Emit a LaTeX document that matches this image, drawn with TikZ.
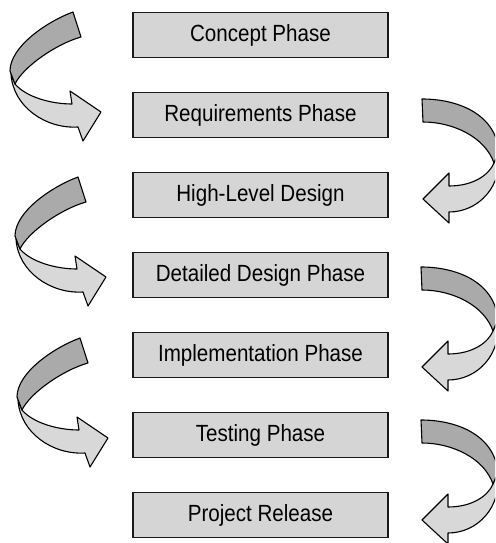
\documentclass[tikz,border=0pt]{standalone}
\usepackage{fontspec}
\setmainfont{Liberation Sans}[FakeStretch=0.88]
\definecolor{boxfill}{HTML}{D5D5D5}
\definecolor{lightfill}{HTML}{D8D8D8}
\definecolor{darkfill}{HTML}{AAAAAA}
\definecolor{edge}{HTML}{1A1A1A}
\tikzset{
  phase/.style={draw=edge, line width=1.4pt, fill=boxfill, minimum width=255pt,
    minimum height=45pt, inner sep=0pt, font=\fontsize{23.4}{28}\selectfont, text=black},
  lightband/.style={fill=lightfill, draw=black, line width=1.1pt, line join=round},
  darkband/.style={fill=darkfill, draw=black, line width=1.1pt, line join=round},
  leftcurl/.pic={
    \filldraw[lightband] (-90,-38) .. controls (-88,-5) and (-55,17) .. (-23,15)
      -- (-18,29) -- (0,0) -- (-31,-21) -- (-29,-8)
      .. controls (-50,-8) and (-75,-15) .. (-86,-28) -- cycle;
    \filldraw[darkband] (-28,-100) .. controls (-55,-90) and (-91,-65) .. (-91,-41)
      -- (-86,-28) .. controls (-78,-45) and (-45,-68) .. (-20,-75) -- cycle;
  },
  rightcurl/.pic={
    \filldraw[lightband] (76,-48) .. controls (80,-12) and (55,13) .. (26,13)
      -- (26,24) -- (0,0) -- (26,-26) -- (26,-13)
      .. controls (50,-13) and (66,-24) .. (71,-36) -- cycle;
    \filldraw[darkband] (-1,-100) .. controls (35,-100) and (72,-85) .. (76,-48)
      -- (71,-36) .. controls (62,-62) and (30,-77) .. (0,-77) -- cycle;
  }
}
\begin{document}
\begin{tikzpicture}[x=1pt,y=-1pt]
\useasboundingbox (0,0) rectangle (495,543);
\clip (0,0) rectangle (495,543);
\node[phase] (p1) at (260.5,35) {Concept Phase};
\node[phase] (p2) at (260.5,115) {Requirements Phase};
\node[phase] (p3) at (260.5,195) {High-Level Design};
\node[phase] (p4) at (260.5,275) {Detailed Design Phase};
\node[phase] (p5) at (260.5,355) {Implementation Phase};
\node[phase] (p6) at (260.5,435) {Testing Phase};
\node[phase] (p7) at (260.5,515) {Project Release};
\coordinate (l1) at (101,112);
\coordinate (l2) at (106,277);
\coordinate (l3) at (108,438);
\coordinate (r1) at (423,199);
\coordinate (r2) at (422,367);
\coordinate (r3) at (422,520);
\pic at (l1) {leftcurl};
\pic at (l2) {leftcurl};
\pic at (l3) {leftcurl};
\pic at (r1) {rightcurl};
\pic at (r2) {rightcurl};
\pic at (r3) {rightcurl};
\end{tikzpicture}
\end{document}
